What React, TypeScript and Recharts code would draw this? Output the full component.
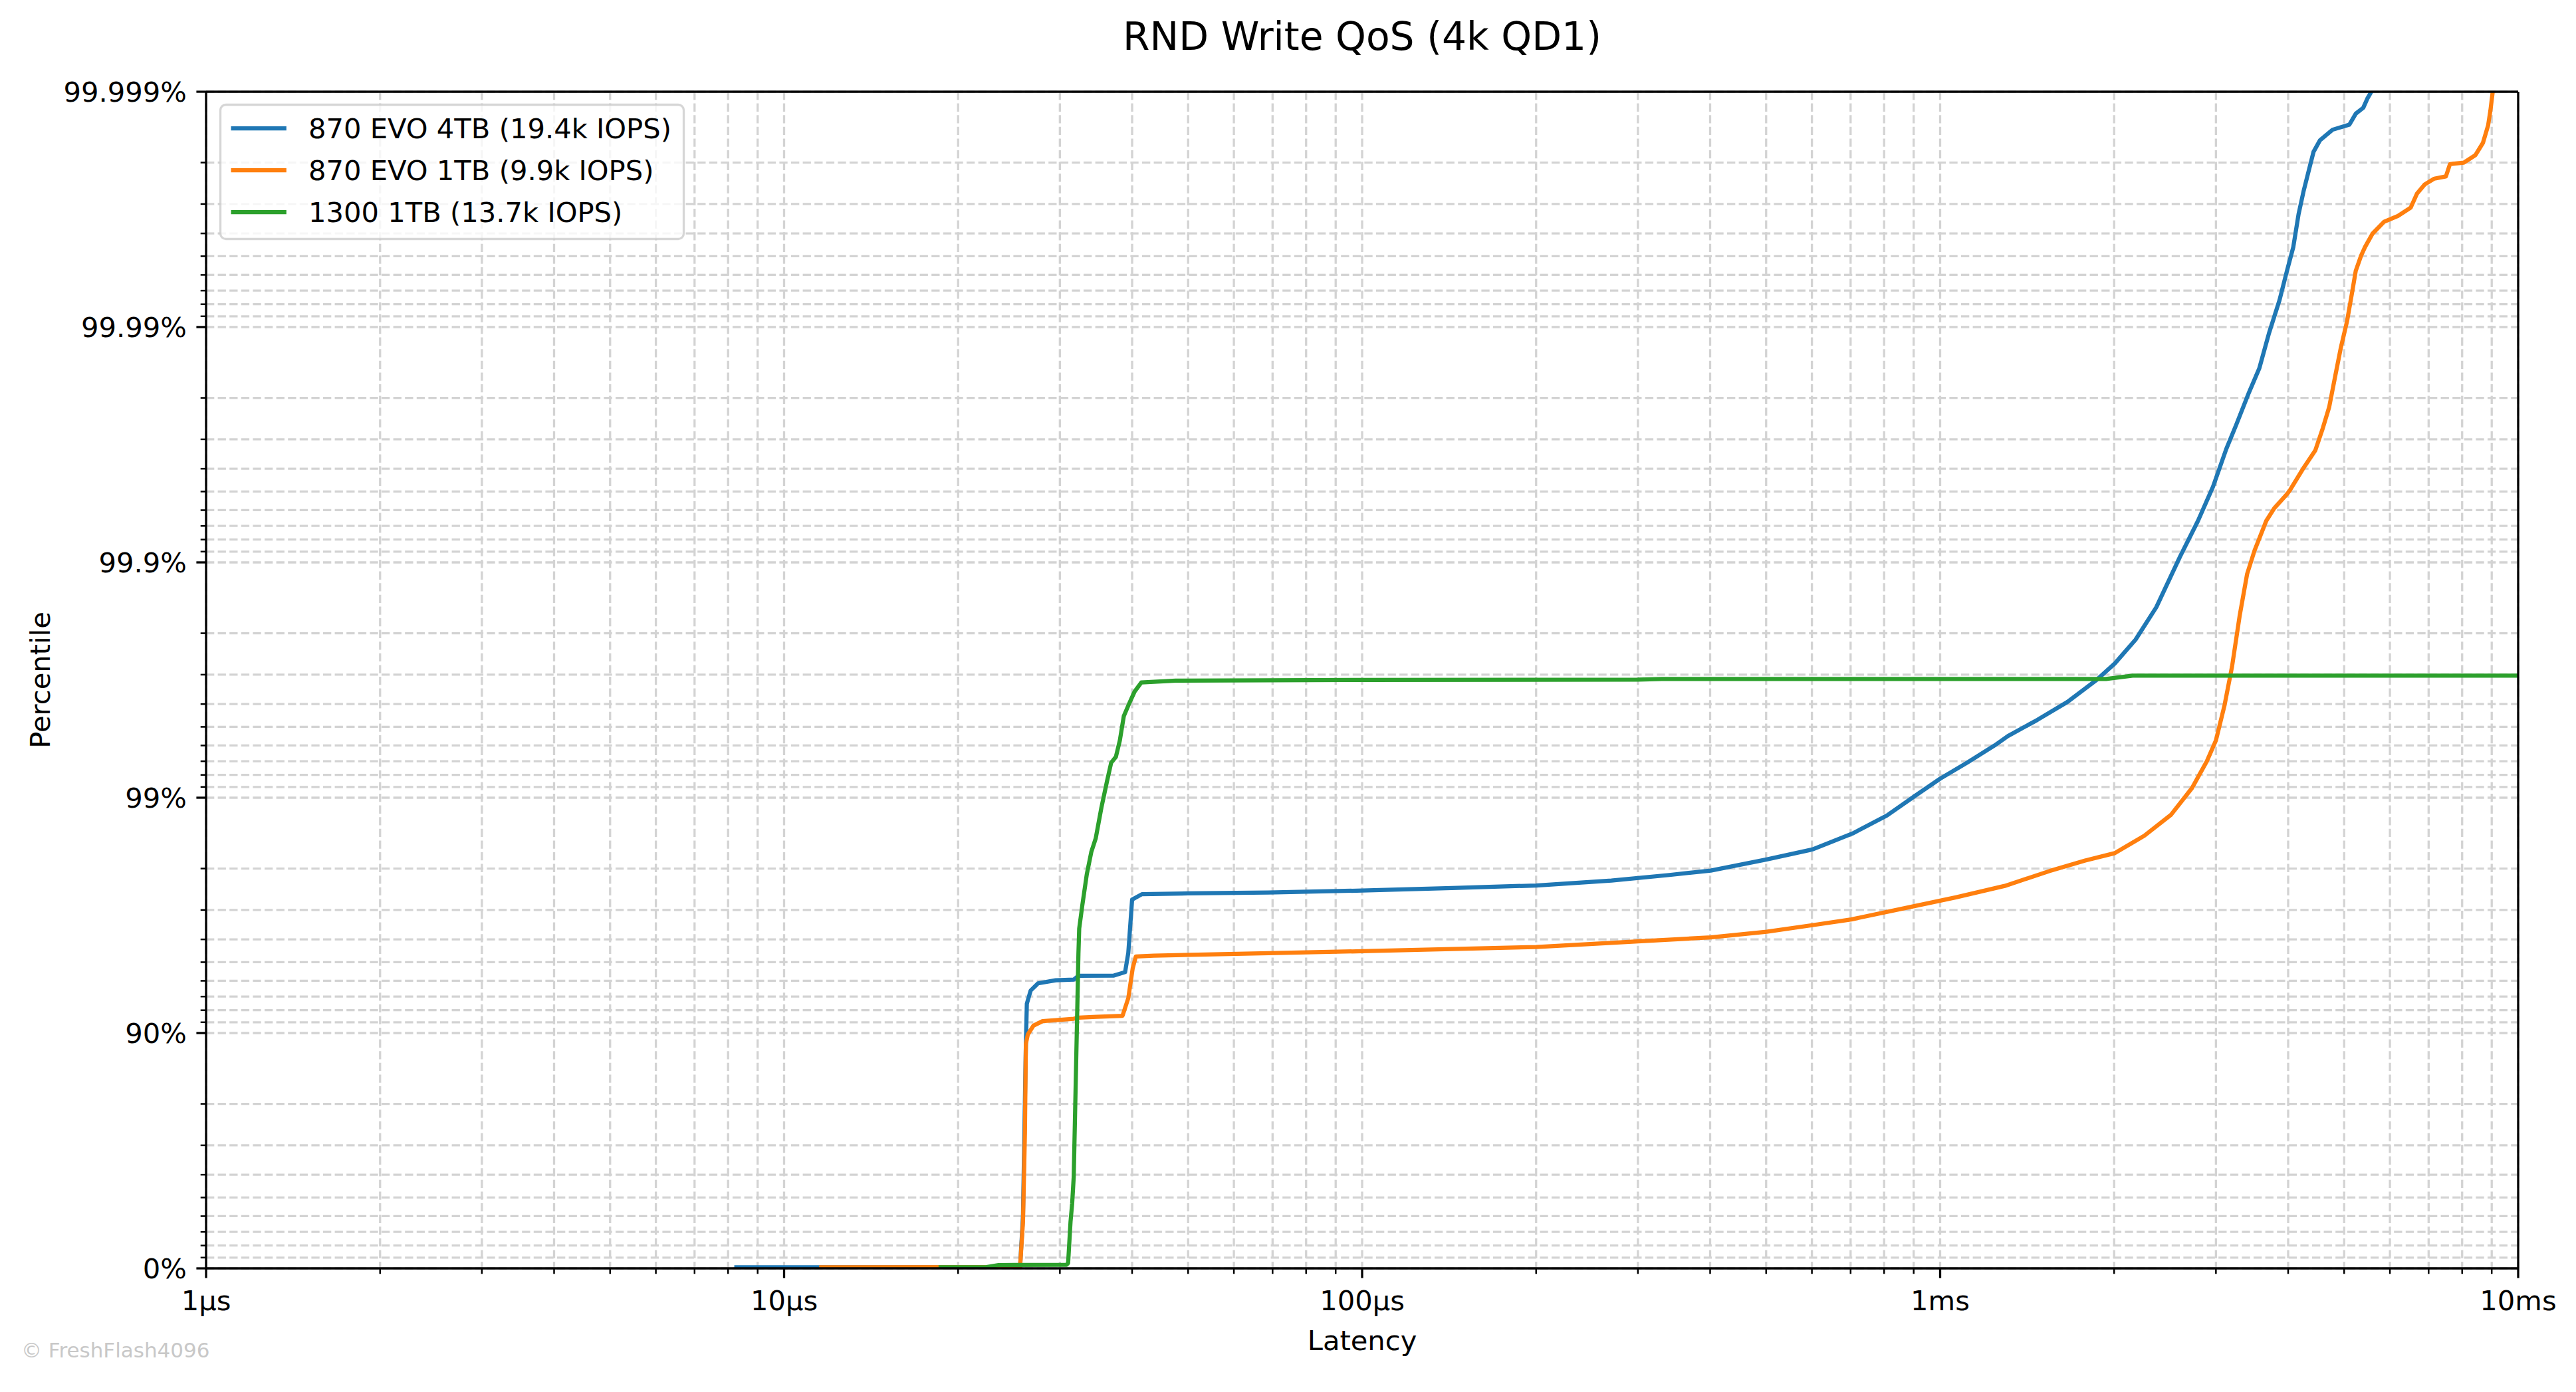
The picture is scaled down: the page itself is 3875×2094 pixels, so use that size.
import {
  LineChart,
  Line,
  XAxis,
  YAxis,
  CartesianGrid,
  ReferenceLine,
  Legend,
} from "recharts";

const W = 3875;
const H = 2094;
const FONT = "'DejaVu Sans', 'Liberation Sans', sans-serif";

// [latency in µs, percentile in %]
const evo4tb: [number, number][] = [
  [8.2, 1], [15, 1], [25.6, 1.2], [25.9, 40], [26.2, 88.9], [26.3, 92.5],
  [26.7, 93.4], [27.5, 93.85], [29.5, 94.03], [31.7, 94.07], [32.3, 94.29],
  [37.2, 94.3], [38.9, 94.49], [39.4, 95.44], [40.0, 97.29], [41.6, 97.43],
  [50, 97.45], [68.8, 97.47], [100, 97.52], [143, 97.58], [200, 97.64],
  [270, 97.75], [340, 97.87], [401, 97.96], [501, 98.17], [601, 98.34],
  [705, 98.58], [809, 98.81], [906, 99.02], [1000, 99.17], [1113, 99.29],
  [1242, 99.4], [1310, 99.453], [1473, 99.533], [1660, 99.608], [1867, 99.685],
  [2005, 99.731], [2178, 99.787], [2366, 99.845], [2601, 99.9056], [2793, 99.9334],
  [2965, 99.9523], [3126, 99.967], [3253, 99.974], [3421, 99.981], [3565, 99.985],
  [3707, 99.9894], [3864, 99.9923], [3981, 99.99423], [4083, 99.99543],
  [4169, 99.99668], [4256, 99.99737], [4345, 99.99785], [4426, 99.9982],
  [4539, 99.99839], [4775, 99.99855], [5105, 99.99862], [5236, 99.99876],
  [5395, 99.99883], [5483, 99.99893], [5572, 99.999],
];

const evo1tb: [number, number][] = [
  [11.5, 1], [25.6, 1.3], [25.9, 36.7], [26.1, 73.5], [26.2, 88.9], [26.4, 89.85],
  [27.0, 90.7], [28.0, 91.1], [31.7, 91.3], [32.3, 91.4], [34.7, 91.47],
  [38.5, 91.55], [39.4, 92.9], [40.1, 94.7], [40.6, 95.27], [43.6, 95.31],
  [68.8, 95.42], [100, 95.51], [200, 95.69], [300, 95.92], [401, 96.08],
  [501, 96.29], [601, 96.52], [702, 96.71], [902, 97.11], [1065, 97.35],
  [1294, 97.63], [1546, 97.95], [1782, 98.15], [2005, 98.28], [2256, 98.55],
  [2510, 98.82], [2727, 99.09], [2893, 99.3], [3000, 99.429], [3105, 99.596],
  [3199, 99.723], [3297, 99.831], [3397, 99.888], [3499, 99.911], [3666, 99.9334],
  [3784, 99.9411], [3981, 99.9487], [4027, 99.9506], [4236, 99.9597],
  [4457, 99.9666], [4592, 99.9731], [4710, 99.9781], [4831, 99.9841],
  [4932, 99.9877], [5058, 99.99056], [5164, 99.99294], [5236, 99.99423],
  [5346, 99.99501], [5433, 99.99543], [5598, 99.99599], [5861, 99.99643],
  [6194, 99.99663], [6516, 99.99689], [6683, 99.99729], [6887, 99.99752],
  [7161, 99.99766], [7499, 99.99771], [7621, 99.99797], [8054, 99.998],
  [8433, 99.99814], [8690, 99.99835], [8872, 99.99861], [8954, 99.9988],
  [9036, 99.999],
];

const wd1300: [number, number][] = [
  [18.5, 1], [22.4, 1.2], [23.5, 3.2], [30.8, 3.4], [31.0, 5], [31.3, 36.7],
  [31.5, 46.8], [31.7, 59.1], [32.0, 86.2], [32.3, 95.4], [32.4, 96.4],
  [32.8, 97.13], [33.4, 97.89], [34.0, 98.3], [34.6, 98.51], [35.4, 98.9],
  [36.2, 99.15], [36.8, 99.29], [37.5, 99.33], [38.1, 99.43], [38.7, 99.55],
  [39.5, 99.6], [40.4, 99.646], [41.5, 99.676], [47.6, 99.682], [100, 99.684],
  [300, 99.685], [330, 99.687], [1936, 99.687], [2153, 99.697], [10000, 99.697],
];

const seriesNames = [
  "870 EVO 4TB (19.4k IOPS)",
  "870 EVO 1TB (9.9k IOPS)",
  "1300 1TB (13.7k IOPS)",
];
const seriesColors = ["#1f77b4", "#ff7f0e", "#2ca02c"];

const yMajorPct = [0, 90, 99, 99.9, 99.99, 99.999];
const yMajorLabels = ["0%", "90%", "99%", "99.9%", "99.99%", "99.999%"];
const yMinorPct = [
  10, 20, 30, 40, 50, 60, 70, 80,
  91, 92, 93, 94, 95, 96, 97, 98,
  99.1, 99.2, 99.3, 99.4, 99.5, 99.6, 99.7, 99.8,
  99.91, 99.92, 99.93, 99.94, 99.95, 99.96, 99.97, 99.98,
  99.991, 99.992, 99.993, 99.994, 99.995, 99.996, 99.997, 99.998,
];

const xMajor = [1, 10, 100, 1000, 10000];
const xMajorLabels = ["1µs", "10µs", "100µs", "1ms", "10ms"];
const xMinor = [
  2, 3, 4, 5, 6, 7, 8, 9,
  20, 30, 40, 50, 60, 70, 80, 90,
  200, 300, 400, 500, 600, 700, 800, 900,
  2000, 3000, 4000, 5000, 6000, 7000, 8000, 9000,
];

// percentile -> "number of nines"
const nines = (p: number) =>
  Math.min(5, Number((-Math.log10(1 - p / 100)).toFixed(9)));

const toRows = (pts: [number, number][]) =>
  pts.map(([t, p]) => ({ t, v: nines(p) }));

const seriesData = [toRows(evo4tb), toRows(evo1tb), toRows(wd1300)];

const yMajorNines = yMajorPct.map(nines);
const yTicks = [...yMajorNines, ...yMinorPct.map(nines)].sort((a, b) => a - b);
const xTicks = [...xMajor, ...xMinor].sort((a, b) => a - b);

const FS = 41.67;

function YTick(props: any) {
  const { x, y, payload } = props;
  const idx = yMajorNines.findIndex((m) => Math.abs(m - payload.value) < 1e-6);
  const major = idx >= 0;
  const len = major ? 14.6 : 8.3;
  return (
    <g>
      <line x1={x - len} x2={x} y1={y} y2={y} stroke="#000" strokeWidth={major ? 3.3 : 2.5} />
      {major && (
        <text x={x - 29.2} y={y + 15.2} textAnchor="end" fontFamily={FONT} fontSize={FS} fill="#000">
          {yMajorLabels[idx]}
        </text>
      )}
    </g>
  );
}

function XTick(props: any) {
  const { x, y, payload } = props;
  const idx = xMajor.findIndex((m) => Math.abs(m - payload.value) < 1e-9);
  const major = idx >= 0;
  const len = major ? 14.6 : 8.3;
  return (
    <g>
      <line x1={x} x2={x} y1={y} y2={y + len} stroke="#000" strokeWidth={major ? 3.3 : 2.5} />
      {major && (
        <text x={x} y={y + 63} textAnchor="middle" fontFamily={FONT} fontSize={FS} fill="#000">
          {xMajorLabels[idx]}
        </text>
      )}
    </g>
  );
}

function LegendBox() {
  const rows = [39, 102, 165];
  return (
    <svg width={710} height={210} style={{ display: "block" }}>
      <rect
        x={3.5}
        y={3.5}
        width={697}
        height={202}
        rx={8.3}
        fill="#fff"
        fillOpacity={0.8}
        stroke="#cccccc"
        strokeOpacity={0.8}
        strokeWidth={3.3}
      />
      {seriesNames.map((name, i) => (
        <g key={name}>
          <line x1={19.5} x2={102.8} y1={rows[i]} y2={rows[i]} stroke={seriesColors[i]} strokeWidth={6.25} />
          <text x={136} y={rows[i] + 15.2} fontFamily={FONT} fontSize={FS} fill="#000">
            {name}
          </text>
        </g>
      ))}
    </svg>
  );
}

export default function App() {
  return (
    <div style={{ position: "absolute", left: 0, top: 0, width: W, height: H, background: "#fff" }}>
      <LineChart
        width={W}
        height={H}
        margin={{ top: 138, right: 87, left: 10, bottom: 86 }}
      >
        <CartesianGrid stroke="#d3d3d3" strokeWidth={3.3} strokeDasharray="12.3 5.3" />
        <XAxis
          dataKey="t"
          type="number"
          scale="log"
          domain={[1, 10000]}
          allowDataOverflow
          ticks={xTicks}
          interval={0}
          height={100}
          tickSize={0}
          tickMargin={0}
          tickLine={false}
          tick={<XTick />}
          axisLine={{ stroke: "#000", strokeWidth: 3.3 }}
        />
        <YAxis
          dataKey="v"
          type="number"
          domain={[0, 5]}
          allowDataOverflow
          ticks={yTicks}
          interval={0}
          width={300}
          tickSize={0}
          tickMargin={0}
          tickLine={false}
          tick={<YTick />}
          axisLine={{ stroke: "#000", strokeWidth: 3.3 }}
        />
        {seriesData.map((rows, i) => (
          <Line
            key={seriesNames[i]}
            data={rows}
            dataKey="v"
            name={seriesNames[i]}
            type="linear"
            stroke={seriesColors[i]}
            strokeWidth={6.25}
            strokeLinejoin="round"
            dot={false}
            activeDot={false}
            isAnimationActive={false}
          />
        ))}
        <ReferenceLine y={5} stroke="#000" strokeWidth={3.3} />
        <ReferenceLine x={10000} stroke="#000" strokeWidth={3.3} />
        <Legend
          layout="horizontal"
          verticalAlign="middle"
          align="center"
          content={() => <LegendBox />}
          wrapperStyle={{ left: 328, top: 154, width: 710, height: 210 }}
        />
      </LineChart>
      <svg
        width={W}
        height={H}
        style={{ position: "absolute", left: 0, top: 0, pointerEvents: "none" }}
      >
        <text x={2049} y={75} textAnchor="middle" fontFamily={FONT} fontSize={58.3} fill="#000">
          RND Write QoS (4k QD1)
        </text>
        <text x={2049} y={2031} textAnchor="middle" fontFamily={FONT} fontSize={FS} fill="#000">
          Latency
        </text>
        <text
          x={0}
          y={0}
          transform="translate(75 1023) rotate(-90)"
          textAnchor="middle"
          fontFamily={FONT}
          fontSize={FS}
          fill="#000"
        >
          Percentile
        </text>
        <text x={32} y={2042} fontFamily={FONT} fontSize={31} fill="#c8c8c8">
          © FreshFlash4096
        </text>
      </svg>
    </div>
  );
}
